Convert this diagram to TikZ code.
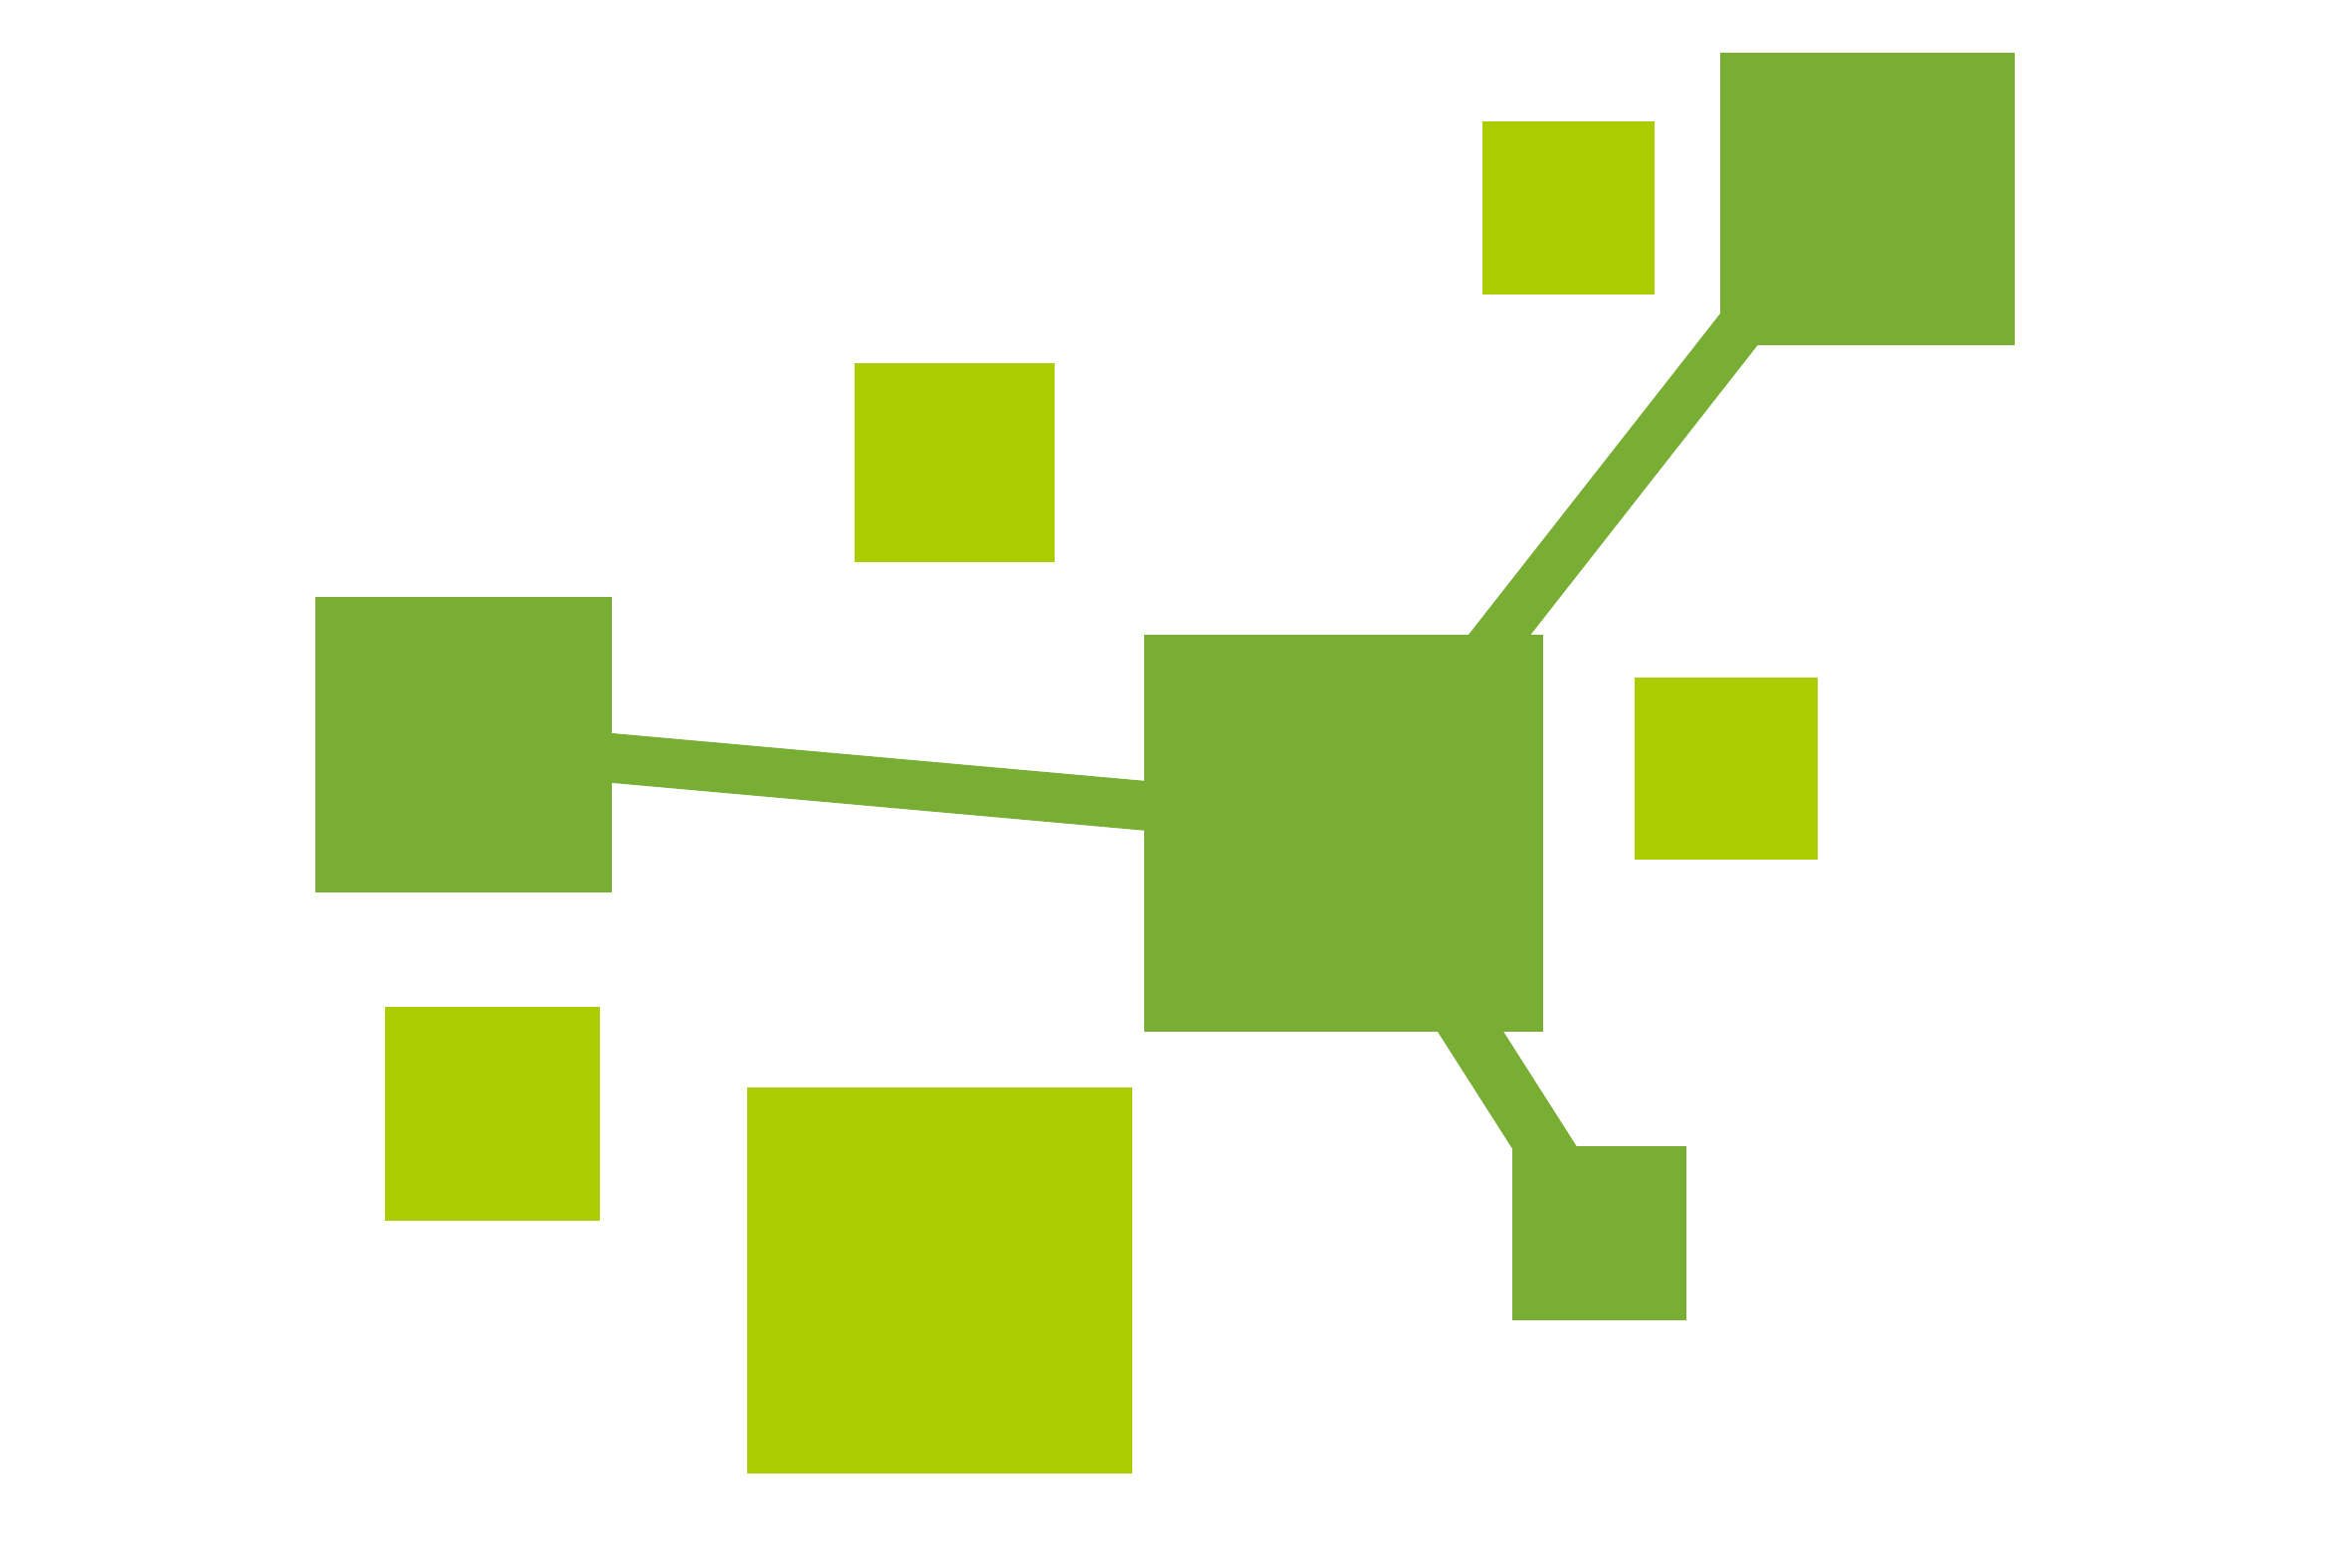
\documentclass[tikz,border=0pt]{standalone}
\definecolor{darkg}{HTML}{78AE34}
\definecolor{lightg}{HTML}{AACC00}
\tikzset{
  sq/.style={rectangle, inner sep=0pt, outer sep=0pt, draw=none},
  dk/.style={sq, fill=darkg},
  lt/.style={sq, fill=lightg},
  link/.style={draw=darkg, line cap=butt}
}
\begin{document}
\begin{tikzpicture}[x=0.1mm, y=-0.1mm]
\useasboundingbox[fill=white] (0,0) rectangle (1568,1045.33);
% connectors first (behind)
\coordinate (pl) at (309,496.5);
\coordinate (pm) at (896,555.5);
\coordinate (pt) at (1245,132.5);
\coordinate (pb) at (1066,822);
\coordinate (pm2) at (896,549);
\coordinate (pt2) at (1227.5,132.5);
\draw[link, line width=3.3mm] (pl) -- (pm2);
\draw[link, line width=3.26mm] (pm) -- (pt2);
\draw[link, line width=3.7mm] (pm) -- (pb);
% squares
\node[dk, minimum width=19.6mm, minimum height=19.5mm] (tr) at (pt) {};
\node[lt, minimum width=11.5mm, minimum height=11.5mm] (tl) at (1045.5,138.5) {};
\node[lt, minimum width=13.3mm, minimum height=13.3mm] (um) at (636.5,308.5) {};
\node[dk, minimum width=19.8mm, minimum height=19.7mm] (left) at (pl) {};
\node[dk, minimum width=26.6mm, minimum height=26.5mm] (main) at (pm) {};
\node[lt, minimum width=12.2mm, minimum height=12.1mm] (rt) at (1151,512.5) {};
\node[lt, minimum width=14.3mm, minimum height=14.3mm] (ll) at (328.5,742.5) {};
\node[lt, minimum width=25.7mm, minimum height=25.7mm] (big) at (626.5,853.5) {};
\node[dk, minimum width=11.6mm, minimum height=11.6mm] (br) at (pb) {};
\end{tikzpicture}
\end{document}
